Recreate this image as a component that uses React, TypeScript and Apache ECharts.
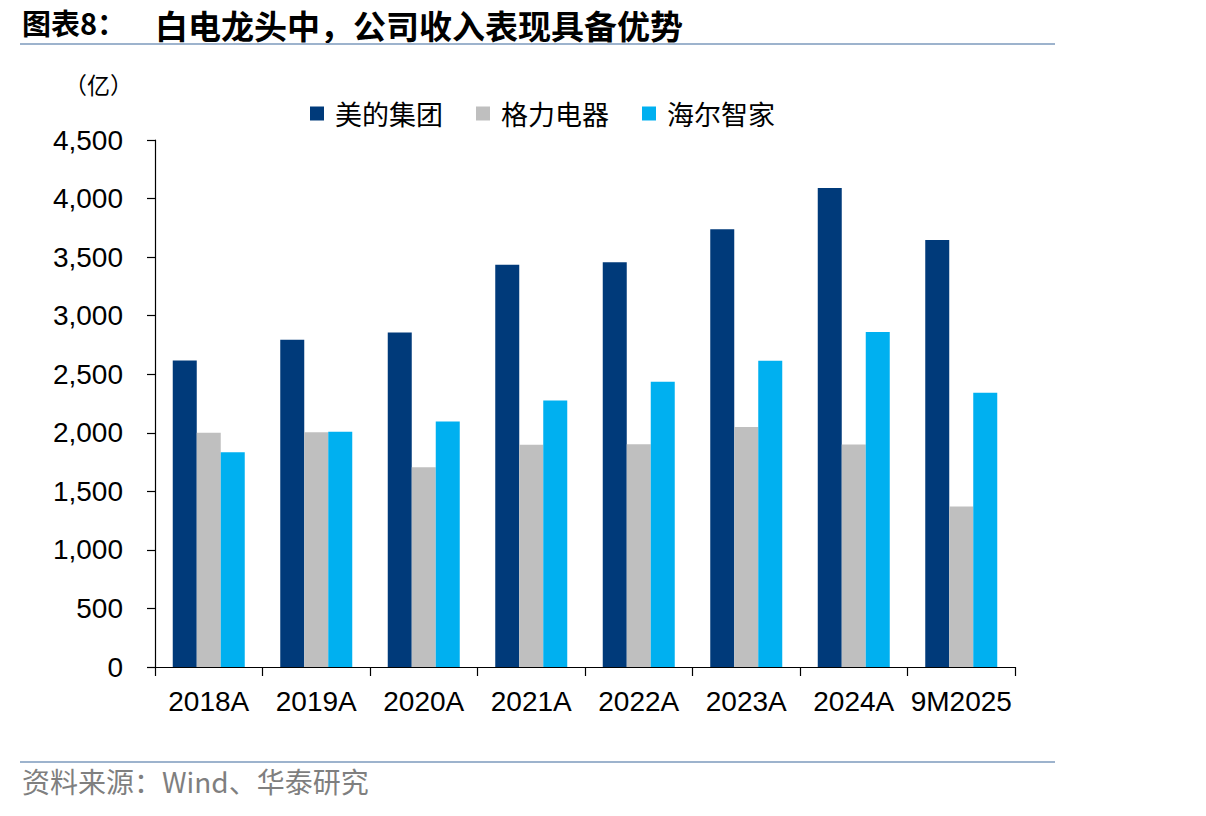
import React, { useEffect, useRef } from "react";
import * as echarts from "echarts";

const categories = ["2018A", "2019A", "2020A", "2021A", "2022A", "2023A", "2024A", "9M2025"];
const midea = [2618, 2794, 2857, 3434, 3457, 3737, 4091, 3647];
const gree = [2000, 2005, 1705, 1897, 1902, 2050, 1900, 1370];
const haier = [1833, 2008, 2097, 2276, 2435, 2614, 2860, 2341];
const seriesNames = ["美的集团", "格力电器", "海尔智家"];
const colors = ["#003A7A", "#BFBFBF", "#00B0F0"];

const titleLead = "图表8：";
const titleMain = "白电龙头中，公司收入表现具备优势";
const unitLabel = "（亿）";
const sourceText = "资料来源：Wind、华泰研究";

export default function App() {
  const ref = useRef<HTMLDivElement>(null);
  useEffect(() => {
    if (!ref.current) return;
    const chart = echarts.init(ref.current, null, { renderer: "svg" });
    const cjk = '"Noto Sans CJK SC", "Noto Sans", sans-serif';
    const latin = '"Liberation Sans", Arial, sans-serif';
    chart.setOption({
      animation: false,
      backgroundColor: "#ffffff",
      grid: { left: 155, right: 191, top: 140, bottom: 149, containLabel: false },
      legend: {
        left: 305,
        top: 95,
        itemWidth: 14,
        itemHeight: 14,
        itemGap: 33,
        icon: "rect",
        textStyle: { fontFamily: cjk, fontSize: 27, color: "#000", padding: [0, 0, 0, 6] },
        data: seriesNames,
      },
      xAxis: {
        type: "category",
        data: categories,
        axisLine: { lineStyle: { color: "#000", width: 1.2 } },
        axisTick: { show: true, length: 9, alignWithLabel: false, lineStyle: { color: "#000", width: 1.2 } },
        axisLabel: { fontFamily: latin, fontSize: 28, color: "#000", margin: 20, interval: 0 },
      },
      yAxis: {
        type: "value",
        min: 0,
        max: 4500,
        interval: 500,
        axisLine: { show: true, lineStyle: { color: "#000", width: 1.2 } },
        axisTick: { show: true, length: 8, lineStyle: { color: "#000", width: 1.2 } },
        splitLine: { show: false },
        axisLabel: {
          fontFamily: latin,
          fontSize: 28,
          color: "#000",
          margin: 32,
          formatter: (v: number) => v.toLocaleString("en-US"),
        },
      },
      series: [
        { name: seriesNames[0], type: "bar", data: midea, barWidth: 24, barGap: "0%", itemStyle: { color: colors[0] } },
        { name: seriesNames[1], type: "bar", data: gree, barWidth: 24, barGap: "0%", itemStyle: { color: colors[1] } },
        { name: seriesNames[2], type: "bar", data: haier, barWidth: 24, barGap: "0%", itemStyle: { color: colors[2] } },
      ],
      graphic: [
        {
          type: "text",
          left: 22,
          top: 7,
          style: { text: titleLead, font: `bold 29px ${cjk}`, fill: "#000" },
        },
        {
          type: "text",
          left: 155,
          top: 8,
          style: { text: titleMain, font: `bold 33px ${cjk}`, fill: "#000" },
        },
        {
          type: "line",
          shape: { x1: 20, y1: 44, x2: 1055, y2: 44 },
          style: { stroke: "#9DB3CD", lineWidth: 2 },
        },
        {
          type: "text",
          left: 64,
          top: 72,
          style: { text: unitLabel, font: `23px ${cjk}`, fill: "#000" },
        },
        {
          type: "line",
          shape: { x1: 20, y1: 762, x2: 1055, y2: 762 },
          style: { stroke: "#9DB3CD", lineWidth: 2 },
        },
        {
          type: "text",
          left: 22,
          top: 767,
          style: { text: sourceText, font: `28px ${cjk}`, fill: "#7F7F7F" },
        },
      ],
    });
    return () => chart.dispose();
  }, []);
  return (
    <div
      ref={ref}
      style={{ position: "fixed", left: 0, top: 0, width: 1206, height: 816, background: "#fff" }}
    />
  );
}
